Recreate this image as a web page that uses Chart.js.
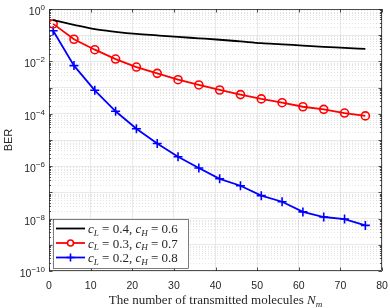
<!DOCTYPE html>
<html>
<head>
<meta charset="utf-8">
<script src="https://cdn.jsdelivr.net/npm/chart.js@4.4.0/dist/chart.umd.min.js"></script>
<style>
  html, body { margin: 0; padding: 0; background: #fff; }
  #wrap { width: 390px; height: 308px; }
</style>
</head>
<body>
<div id="wrap"><canvas id="ber"></canvas></div>
<script>
// ── Data ──────────────────────────────────────────────────
const nm = [1, 6, 11, 16, 21, 26, 31, 36, 41, 46, 51, 56, 61, 66, 71, 76];
const berL4 = [0.38, 0.25, 0.17, 0.135, 0.112, 0.098, 0.086, 0.076, 0.067, 0.058, 0.050, 0.045, 0.040, 0.036, 0.033, 0.030];
const berL3 = [0.27, 0.07, 0.028, 0.0123, 0.0061, 0.0035, 0.002, 0.00126, 8.1e-4, 5.4e-4, 3.7e-4, 2.65e-4, 1.86e-4, 1.48e-4, 1.07e-4, 8.3e-5];
const berL2 = [0.148, 0.0069, 7.9e-4, 1.25e-4, 2.7e-5, 7.4e-6, 2.3e-6, 8.5e-7, 3.3e-7, 1.8e-7, 7.5e-8, 4.4e-8, 1.8e-8, 1.15e-8, 9.6e-9, 5.5e-9];
const xTicks = [0, 10, 20, 30, 40, 50, 60, 70, 80];
const yDecades = [0, -1, -2, -3, -4, -5, -6, -7, -8, -9, -10];
const yLabelExp = [0, -2, -4, -6, -8, -10];
const cLow = ['0.4', '0.3', '0.2'];
const cHigh = ['0.6', '0.7', '0.8'];

const INK = '#262626';
const SANS = '"Liberation Sans", Arial, sans-serif';
const SERIF = '"Liberation Serif", "Times New Roman", serif';

function pts(ys) {
  return nm.map((x, i) => ({ x, y: ys[i] }));
}

// draw a run of [text, font, dy] pieces left to right
function drawRun(ctx, parts, x, y) {
  parts.forEach(([t, font, dy]) => {
    ctx.font = font;
    ctx.fillText(t, x, y + (dy || 0));
    x += ctx.measureText(t).width;
  });
  return x;
}
function runWidth(ctx, parts) {
  let w = 0;
  parts.forEach(([t, font]) => { ctx.font = font; w += ctx.measureText(t).width; });
  return w;
}

// ── Axes decoration: minor grid, frame, ticks, labels, legend ──
const matlabAxes = {
  id: 'matlabAxes',
  beforeDatasetsDraw(chart) {
    const { ctx, chartArea: a, scales: { y } } = chart;
    ctx.save();
    ctx.strokeStyle = 'rgba(120,120,120,0.35)';
    ctx.lineWidth = 0.6;
    ctx.setLineDash([1, 2]);
    yDecades.slice(0, -1).forEach(e => {
      for (let k = 2; k <= 9; k++) {
        const py = Math.round(y.getPixelForValue(k * Math.pow(10, e - 1))) + 0.5;
        ctx.beginPath();
        ctx.moveTo(a.left, py);
        ctx.lineTo(a.right, py);
        ctx.stroke();
      }
    });
    ctx.restore();
  },
  afterDraw(chart) {
    const { ctx, chartArea: a, scales: { x, y } } = chart;
    ctx.save();
    ctx.strokeStyle = INK;
    ctx.fillStyle = INK;
    ctx.lineWidth = 0.8;
    ctx.strokeRect(a.left + 0.5, a.top + 0.5, a.right - a.left - 1, a.bottom - a.top - 1);

    // inward ticks
    ctx.beginPath();
    xTicks.forEach(v => {
      const px = Math.round(x.getPixelForValue(v)) + 0.5;
      ctx.moveTo(px, a.bottom); ctx.lineTo(px, a.bottom - 3.5);
      ctx.moveTo(px, a.top); ctx.lineTo(px, a.top + 3.5);
    });
    yDecades.forEach(e => {
      const py = Math.round(y.getPixelForValue(Math.pow(10, e))) + 0.5;
      ctx.moveTo(a.left, py); ctx.lineTo(a.left + 3.5, py);
      ctx.moveTo(a.right, py); ctx.lineTo(a.right - 3.5, py);
      if (e > -10) {
        for (let k = 2; k <= 9; k++) {
          const pm = Math.round(y.getPixelForValue(k * Math.pow(10, e - 1))) + 0.5;
          ctx.moveTo(a.left, pm); ctx.lineTo(a.left + 2, pm);
          ctx.moveTo(a.right, pm); ctx.lineTo(a.right - 2, pm);
        }
      }
    });
    ctx.stroke();

    // x tick labels
    ctx.font = '10.5px ' + SANS;
    ctx.textAlign = 'center';
    ctx.textBaseline = 'middle';
    xTicks.forEach(v => ctx.fillText(String(v), x.getPixelForValue(v), a.bottom + 15));

    // y tick labels 10^n
    ctx.textBaseline = 'alphabetic';
    ctx.textAlign = 'left';
    yLabelExp.forEach(e => {
      const py = y.getPixelForValue(Math.pow(10, e));
      const parts = [['10', '10.5px ' + SANS, 0], [String(e).replace('-', '\u2212'), '8px ' + SANS, -5]];
      const w = runWidth(ctx, parts);
      drawRun(ctx, parts, a.left - 4 - w, py + 6);
    });

    // y title
    ctx.save();
    ctx.translate(9, (a.top + a.bottom) / 2);
    ctx.rotate(-Math.PI / 2);
    ctx.font = '11px ' + SANS;
    ctx.textAlign = 'center';
    ctx.textBaseline = 'middle';
    ctx.fillText('BER', 0, 0);
    ctx.restore();

    // x title
    const fs = 13;
    const title = [
      ['The number of transmitted molecules ', fs + 'px ' + SERIF, 0],
      ['N', 'italic ' + fs + 'px ' + SERIF, 0],
      ['m', 'italic ' + (fs * 0.7) + 'px ' + SERIF, 2.5],
    ];
    ctx.textAlign = 'left';
    const tw = runWidth(ctx, title);
    drawRun(ctx, title, (a.left + a.right) / 2 - tw / 2, 304);

    // legend
    const lx = 53.5, ly = 219.5, lw = 135, lh = 49;
    ctx.fillStyle = '#fff';
    ctx.fillRect(lx, ly, lw, lh);
    ctx.strokeStyle = INK;
    ctx.lineWidth = 0.6;
    ctx.strokeRect(lx, ly, lw, lh);
    const lfs = 13;
    chart.data.datasets.forEach((ds, i) => {
      const ry = 228.5 + i * 14.5;
      ctx.strokeStyle = ds.borderColor;
      ctx.lineWidth = 1.8;
      ctx.beginPath();
      ctx.moveTo(56, ry); ctx.lineTo(85, ry);
      ctx.stroke();
      if (ds.pointRadius > 0) {
        ctx.lineWidth = ds.pointBorderWidth;
        ctx.beginPath();
        if (ds.pointStyle === 'circle') {
          ctx.fillStyle = '#fff';
          ctx.arc(70.5, ry, 3, 0, Math.PI * 2);
          ctx.fill();
        } else {
          ctx.moveTo(66.5, ry); ctx.lineTo(74.5, ry);
          ctx.moveTo(70.5, ry - 4); ctx.lineTo(70.5, ry + 4);
        }
        ctx.stroke();
      }
      ctx.fillStyle = INK;
      const it = 'italic ' + lfs + 'px ' + SERIF;
      const rm = lfs + 'px ' + SERIF;
      const sub = 'italic ' + (lfs * 0.7) + 'px ' + SERIF;
      drawRun(ctx, [
        ['c', it, 0], ['L', sub, 2.5], [' = ' + cLow[i] + ', ', rm, 0],
        ['c', it, 0], ['H', sub, 2.5], [' = ' + cHigh[i], rm, 0],
      ], 88, ry + 4.5);
    });
    ctx.restore();
  }
};

new Chart(document.getElementById('ber'), {
  type: 'line',
  data: {
    datasets: [
      {
        data: pts(berL4), borderColor: '#000000', backgroundColor: '#000000',
        borderWidth: 1.8, pointRadius: 0, cubicInterpolationMode: 'monotone',
      },
      {
        data: pts(berL3), borderColor: '#ff0000', backgroundColor: '#ffffff',
        borderWidth: 1.8, pointStyle: 'circle', pointRadius: 4,
        pointBorderWidth: 1.6, pointBackgroundColor: 'rgba(255,255,255,0)',
      },
      {
        data: pts(berL2), borderColor: '#0000ff', backgroundColor: '#0000ff',
        borderWidth: 1.8, pointStyle: 'cross', pointRadius: 4.5,
        pointBorderWidth: 1.6,
      },
    ],
  },
  options: {
    responsive: true,
    maintainAspectRatio: false,
    animation: false,
    events: [],
    layout: { padding: { left: 0, top: 9, right: 8, bottom: 0 } },
    plugins: { legend: { display: false }, tooltip: { enabled: false } },
    scales: {
      x: {
        type: 'linear', min: 0, max: 80,
        afterBuildTicks: s => { s.ticks = xTicks.map(v => ({ value: v })); },
        afterFit: s => { s.height = 37; },
        grid: { color: '#e3e3e3', lineWidth: 0.8, drawTicks: false },
        border: { display: false },
        ticks: { display: false },
      },
      y: {
        type: 'logarithmic', min: 1e-10, max: 1,
        afterBuildTicks: s => { s.ticks = yDecades.map(e => ({ value: Math.pow(10, e) })); },
        afterFit: s => { s.width = 49; },
        grid: { color: '#e3e3e3', lineWidth: 0.8, drawTicks: false },
        border: { display: false },
        ticks: { display: false },
      },
    },
  },
  plugins: [matlabAxes],
});
</script>
</body>
</html>
